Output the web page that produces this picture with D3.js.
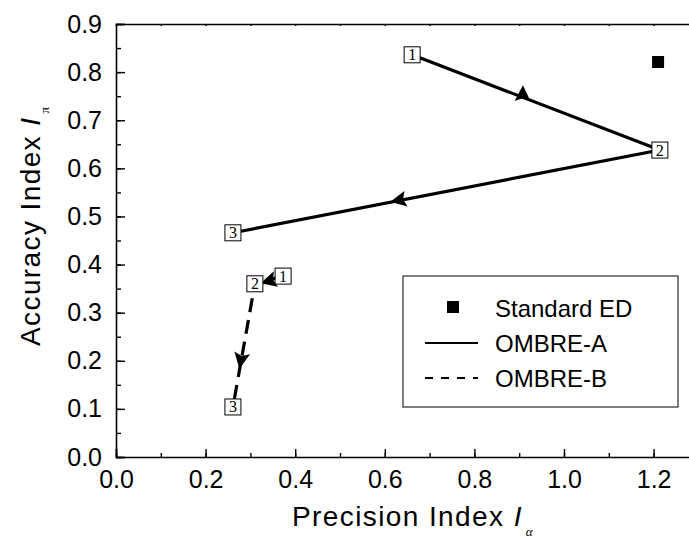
<!DOCTYPE html>
<html>
<head>
<meta charset="utf-8">
<script src="https://cdn.jsdelivr.net/npm/d3@7"></script>
<style>
    body { margin: 0; background: #fff; }
    svg { display: block; font-family: "Liberation Sans", Arial, sans-serif; }
</style>
</head>
<body>
<svg id="canvas" width="689" height="541"></svg>
<script>
// values
var xTicks = [0.0, 0.2, 0.4, 0.6, 0.8, 1.0, 1.2];
var yTicks = [0.0, 0.1, 0.2, 0.3, 0.4, 0.5, 0.6, 0.7, 0.8, 0.9];

var standardED = [{x: 1.21, y: 0.821}];

var ombreA = [
    {x: 0.661, y: 0.836, label: "1"},
    {x: 1.214, y: 0.638, label: "2"},
    {x: 0.261, y: 0.466, label: "3"}
];
var ombreB = [
    {x: 0.373, y: 0.376, label: "1"},
    {x: 0.310, y: 0.360, label: "2"},
    {x: 0.261, y: 0.104, label: "3"}
];
// arrow heads sitting on each segment (segment index, position)
var arrowsA = [
    {seg: 0, x: 0.908, y: 0.754, turn: -110},
    {seg: 1, x: 0.632, y: 0.534, turn: 0}
];
var arrowsB = [
    {seg: 0, x: 0.342, y: 0.366, turn: 0},
    {seg: 1, x: 0.279, y: 0.202, turn: 0}
];

var legendItems = ["Standard ED", "OMBRE-A", "OMBRE-B"];

var svg = d3.select("#canvas");
var plotLeft = 116, plotTop = 24, plotBottom = 457;

var x = d3.scaleLinear().domain([0, 1.3]).range([plotLeft, plotLeft + 13 * 44.8]);
var y = d3.scaleLinear().domain([0, 0.9]).range([plotBottom, plotTop]);

// axes - ticks point inwards like the origin plot
var xMinor = d3.range(0, 1.31, 0.1);
var yMinor = d3.range(0, 0.91, 0.05);

svg.append("g").attr("transform", "translate(0," + plotBottom + ")")
    .call(d3.axisBottom(x).tickValues(xMinor).tickSize(-4).tickFormat(""))
    .call(function (g) { g.select(".domain").remove(); });
svg.append("g").attr("class", "xaxis").attr("transform", "translate(0," + plotBottom + ")")
    .call(d3.axisBottom(x).tickValues(xTicks).tickSize(-8).tickPadding(13).tickFormat(d3.format(".1f")));
svg.append("g").attr("transform", "translate(0," + plotTop + ")")
    .call(d3.axisTop(x).tickValues(xMinor).tickSize(-2).tickFormat(""));

svg.append("g").attr("transform", "translate(" + plotLeft + ",0)")
    .call(d3.axisLeft(y).tickValues(yMinor).tickSize(-5).tickFormat(""))
    .call(function (g) { g.select(".domain").remove(); });
svg.append("g").attr("class", "yaxis").attr("transform", "translate(" + plotLeft + ",0)")
    .call(d3.axisLeft(y).tickValues(yTicks).tickSize(-9).tickPadding(14).tickFormat(d3.format(".1f")));

svg.selectAll(".domain").attr("stroke", "#000").attr("stroke-width", 1.6);
svg.selectAll(".tick line").attr("stroke", "#000").attr("stroke-width", 1.4);
svg.selectAll(".xaxis text, .yaxis text").attr("font-size", 25).attr("fill", "#000")
    .attr("font-family", "'Liberation Sans', Arial, sans-serif");

// axis titles (origin spaces its letters out a little)
var xt = svg.append("text").attr("x", 292).attr("y", 526).attr("font-size", 28)
    .attr("letter-spacing", 1.4);
xt.append("tspan").text("Precision Index ");
xt.append("tspan").attr("font-style", "italic").text("I");
xt.append("tspan").attr("dx", 3).attr("dy", 10).attr("font-size", 13)
    .attr("font-family", "'Liberation Serif', serif").attr("font-style", "italic").text("α");

var yt = svg.append("text").attr("transform", "translate(40,346) rotate(-90)").attr("font-size", 28)
    .attr("letter-spacing", 1.4);
yt.append("tspan").text("Accuracy Index ");
yt.append("tspan").attr("font-style", "italic").text("I");
yt.append("tspan").attr("dx", 3).attr("dy", 9).attr("font-size", 13)
    .attr("font-family", "'Liberation Serif', serif").text("π");

var line = d3.line().x(function (d) { return x(d.x); }).y(function (d) { return y(d.y); });

function drawSeries(data, arrows, dash) {
    var g = svg.append("g");
    g.append("path").datum(data).attr("d", line)
        .attr("fill", "none").attr("stroke", "#000").attr("stroke-width", 3.2)
        .attr("stroke-dasharray", dash);
    g.selectAll(".arrow").data(arrows).enter().append("path").attr("class", "arrow")
        .attr("d", "M9,0 L-7,-8 L-4,0 L-7,8 Z")
        .attr("fill", "#000")
        .attr("transform", function (d) {
            var a = data[d.seg], b = data[d.seg + 1];
            var ang = Math.atan2(y(b.y) - y(a.y), x(b.x) - x(a.x)) * 180 / Math.PI + d.turn;
            return "translate(" + x(d.x) + "," + y(d.y) + ") rotate(" + ang + ")";
        });
    var lab = g.selectAll(".lab").data(data).enter().append("g").attr("class", "lab")
        .attr("transform", function (d) { return "translate(" + x(d.x) + "," + y(d.y) + ")"; });
    lab.append("rect").attr("x", -8).attr("y", -8).attr("width", 16).attr("height", 16)
        .attr("fill", "#fff").attr("stroke", "#000").attr("stroke-width", 1);
    lab.append("text").attr("y", 5.5).attr("text-anchor", "middle")
        .attr("font-family", "'Liberation Serif', 'Times New Roman', serif").attr("font-size", 16)
        .text(function (d) { return d.label; });
}

drawSeries(ombreA, arrowsA, null);
drawSeries(ombreB, arrowsB, "14,8");

svg.selectAll(".std").data(standardED).enter().append("rect").attr("class", "std")
    .attr("x", function (d) { return x(d.x) - 6; })
    .attr("y", function (d) { return y(d.y) - 6; })
    .attr("width", 12).attr("height", 12).attr("fill", "#000");

// legend
var leg = svg.append("g").attr("transform", "translate(403,276)");
leg.append("rect").attr("width", 275).attr("height", 131)
    .attr("fill", "#fff").attr("stroke", "#000").attr("stroke-width", 1);
leg.selectAll(".item").data(legendItems).enter().append("text").attr("class", "item")
    .attr("x", 92).attr("y", function (d, i) { return 41 + i * 35; })
    .attr("font-size", 24).text(function (d) { return d; });
leg.append("rect").attr("x", 44).attr("y", 25).attr("width", 12).attr("height", 12).attr("fill", "#000");
leg.append("line").attr("x1", 22).attr("x2", 75).attr("y1", 67).attr("y2", 67)
    .attr("stroke", "#000").attr("stroke-width", 2);
leg.append("line").attr("x1", 22).attr("x2", 75).attr("y1", 102).attr("y2", 102)
    .attr("stroke", "#000").attr("stroke-width", 2).attr("stroke-dasharray", "8,8");
</script>
</body>
</html>
